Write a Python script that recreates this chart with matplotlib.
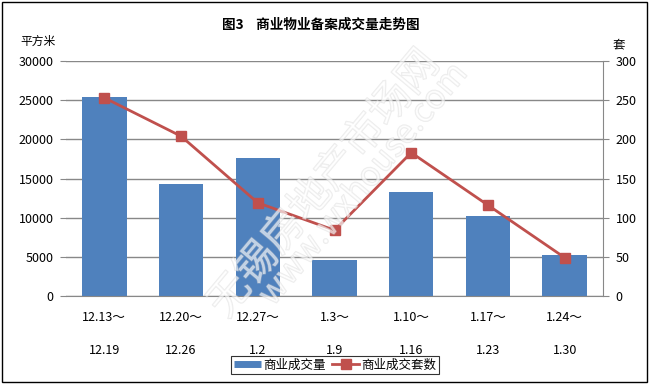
import matplotlib.pyplot as plt
import matplotlib.patheffects as pe
from matplotlib.lines import Line2D
import numpy as np

plt.rcParams['font.family'] = ['Noto Sans CJK SC', 'DejaVu Sans']

# --------- DATOS ---------
semana_inicio = ['12.13～', '12.20～', '12.27～', '1.3～', '1.10～', '1.17～', '1.24～']
semana_fin = ['12.19', '12.26', '1.2', '1.9', '1.16', '1.23', '1.30']
area = [25400, 14300, 17600, 4600, 13300, 10200, 5200]    # 商业成交量 (平方米)
tao = [253, 204, 119, 84, 183, 116, 49]                    # 商业成交套数 (套)

color_barra = '#4F81BD'
color_linea = '#C0504D'
gris = '#888888'

fig = plt.figure(figsize=(6.49, 3.84), dpi=100)
ax = fig.add_axes([66/649, 88/384, 537/649, 235/384])
x = np.arange(len(area))

ax.bar(x, area, width=0.58, color=color_barra, zorder=2)
ax.set_xlim(-0.5, len(area) - 0.5)
ax.set_ylim(0, 30000)
ax.set_yticks(range(0, 30001, 5000))
ax.grid(axis='y', color=gris, linewidth=1, zorder=0)
ax.set_axisbelow(True)
ax.tick_params(axis='y', length=4, color=gris, labelsize=9, pad=5)
ax.tick_params(axis='x', length=0, labelbottom=False)
for s in ['top', 'left', 'right']:
    ax.spines[s].set_visible(False)
ax.spines['bottom'].set_color(gris)

ax2 = ax.twinx()
linea, = ax2.plot(x, tao, color=color_linea, linewidth=2, marker='s', markersize=7,
                  zorder=3, label='商业成交套数')
ax2.set_ylim(0, 300)
ax2.set_yticks(range(0, 301, 50))
ax2.tick_params(axis='y', length=4, color=gris, labelsize=9, pad=5)
for s in ['top', 'left', 'bottom']:
    ax2.spines[s].set_visible(False)
ax2.spines['right'].set_color(gris)

# Etiquetas del eje x en dos renglones
trans = ax.get_xaxis_transform()
for i in x:
    ax.text(i, -0.09, semana_inicio[i], transform=trans, ha='center', va='center', fontsize=9)
    ax.text(i, -0.23, semana_fin[i], transform=trans, ha='center', va='center', fontsize=9)

# Titulos y unidades
fig.text(321/649, 1 - 25/384, '图3    商业物业备案成交量走势图', ha='center', va='center',
         fontsize=9.8, fontweight='bold')
fig.text(38/649, 1 - 41/384, '平方米', ha='center', va='center', fontsize=8.5)
fig.text(619/649, 1 - 45/384, '套', ha='center', va='center', fontsize=9)

# Marca de agua
marca = [pe.Stroke(linewidth=1, foreground='#cfcfcf'), pe.Normal()]
fig.text(0.5, 0.52, '无锡房地产市场网', rotation=50, ha='center', va='center', fontsize=30,
         color='white', alpha=0.4, zorder=5, path_effects=marca)
fig.text(0.56, 0.52, 'www.wxhouse.com', rotation=50, ha='center', va='center', fontsize=24,
         color='white', alpha=0.4, zorder=5, path_effects=marca)

# Leyenda (barra como franja delgada, estilo Excel)
barra_ley = Line2D([], [], color=color_barra, linewidth=5, solid_capstyle='butt', label='商业成交量')
leg = fig.legend(handles=[barra_ley, linea], loc='center', bbox_to_anchor=(335/649, 1 - 365/384),
                 ncol=2, fontsize=9, frameon=True, fancybox=False, edgecolor='black',
                 handlelength=2.2, columnspacing=0.5, handletextpad=0.15, borderpad=0.2)
leg.get_frame().set_linewidth(0.8)

# Borde de la figura
fig.patches.append(plt.Rectangle((2/649, 2/384), 645/649, 380/384, transform=fig.transFigure,
                                 fill=False, edgecolor='black', linewidth=1))

fig.savefig('out.png', dpi=100)
